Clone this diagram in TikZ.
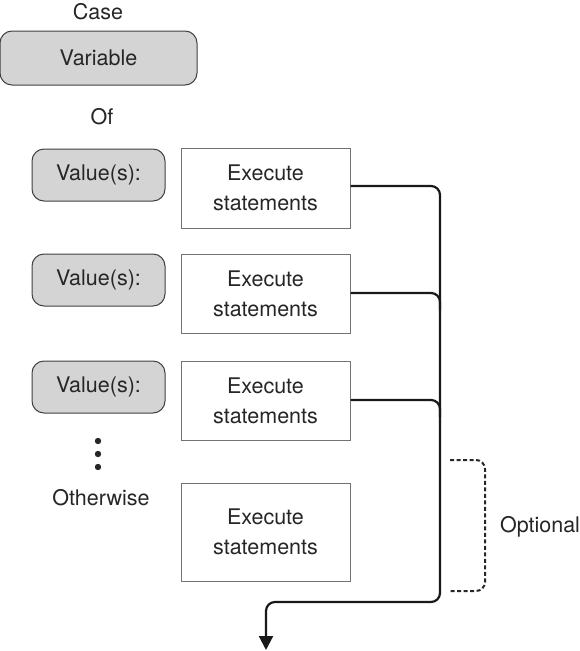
\documentclass[tikz,border=0pt]{standalone}
\usepackage{fontspec}
\setmainfont{TeX Gyre Heros}
\usetikzlibrary{arrows.meta}
\begin{document}
\begin{tikzpicture}[x=1pt,y=-1pt,
  txt/.style={font=\fontsize{21.5}{30}\selectfont, text=black!85, align=center, inner sep=0pt},
  graybox/.style={draw=black!75, line width=1pt, fill=black!17, rounded corners=12pt, txt},
  execbox/.style={draw=black!55, line width=1pt, fill=white, txt},
  flow/.style={draw=black!90, line width=2.2pt, rounded corners=9pt},
  opt/.style={draw=black!85, line width=2pt, dash pattern=on 4pt off 2.5pt, rounded corners=9pt}]
\useasboundingbox (0,0) rectangle (580,651);
\node[txt] (case) at (98,12) {Case};
\node[graybox, minimum width=197pt, minimum height=54pt] (var) at (98.5,58) {Variable};
\node[txt] (of) at (102,117) {Of};
\node[graybox, minimum width=133pt, minimum height=52pt] (v1) at (98.5,175) {Value(s):};
\node[graybox, minimum width=133pt, minimum height=52pt] (v2) at (98.5,280) {Value(s):};
\node[graybox, minimum width=133pt, minimum height=52pt] (v3) at (98.5,387) {Value(s):};
\node[execbox, minimum width=169pt, minimum height=80pt] (e1) at (265.5,188) {Execute\\statements};
\node[execbox, minimum width=169pt, minimum height=79pt] (e2) at (265.5,293.5) {Execute\\statements};
\node[execbox, minimum width=169pt, minimum height=79pt] (e3) at (265.5,400.5) {Execute\\statements};
\node[execbox, minimum width=169pt, minimum height=98pt] (e4) at (265.5,532) {Execute\\statements};
\node[txt] (other) at (101,498) {Otherwise};
\node[txt] (optional) at (540,527) {Optional};
\foreach \yy/\nm in {441/d1,454/d2,467/d3}
  \fill[black!85] (98,\yy) circle (3.2pt) coordinate (\nm);
\coordinate (bottom) at (266,650);
\coordinate (c1) at (440,602);
\draw[flow, -{Triangle[length=14pt,width=14pt]}] (e1.east |- 0,186) -- (440,186) -- (c1) -- (266,602) [sharp corners] -- (bottom);
\draw[flow] (e2.east |- 0,293) -- (440,293) -- (440,310);
\draw[flow] (e3.east |- 0,400) -- (440,400) -- (440,417);
\draw[opt] (450,460) -- (485,460) -- (485,591) -- (450,591);
\end{tikzpicture}
\end{document}
